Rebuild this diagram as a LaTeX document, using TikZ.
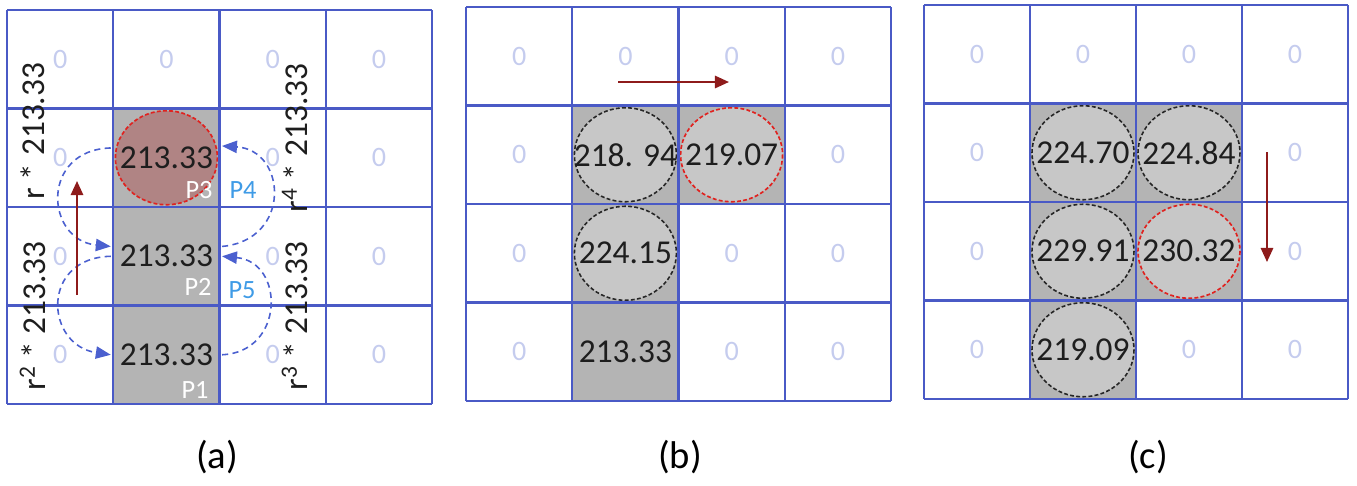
\documentclass[tikz,border=0pt]{standalone}
\usepackage{fontspec}
\setmainfont{Carlito}
\usetikzlibrary{arrows.meta,backgrounds}
\definecolor{gridline}{HTML}{4A5AC6}
\definecolor{zerotint}{HTML}{C5CCEE}
\definecolor{cellgray}{HTML}{B4B4B4}
\definecolor{bubblegray}{HTML}{C7C7C7}
\definecolor{hotfill}{HTML}{B08484}
\definecolor{hotline}{HTML}{E0221F}
\definecolor{pathred}{HTML}{8E1B1B}
\definecolor{arcblue}{HTML}{4B60CF}
\definecolor{tagblue}{HTML}{3F9BE6}
\definecolor{ink}{HTML}{1E1E1E}

\begin{document}
\begin{tikzpicture}[
  x=0.02cm, y=-0.02cm,
  font=\fontsize{19}{22}\selectfont, ink,
  gridcell/.style={draw=gridline, line width=1.35pt},
  filled/.style={fill=cellgray},
  zerotxt/.style={text=zerotint, font=\fontsize{16}{18}\selectfont, inner sep=0pt},
  valtxt/.style={text=ink, inner xsep=5pt, inner ysep=1pt},
  plabel/.style={text=white, font=\fontsize{15}{17}\selectfont, inner sep=0pt},
  plabelb/.style={plabel, text=tagblue},
  sidelabel/.style={rotate=90, text=ink, inner sep=0pt},
  bubble/.style={draw=black!85, fill=bubblegray, line width=0.9pt,
                 dash pattern=on 2.2pt off 1.3pt},
  hot/.style={draw=hotline, line width=0.95pt, dash pattern=on 2.2pt off 1.3pt},
  hop/.style={draw=arcblue, line width=0.9pt, dash pattern=on 3.5pt off 2.5pt,
              -{Triangle[length=8.5pt,width=7pt]}},
  walk/.style={draw=pathred, line width=1.2pt, -{Triangle[length=8pt,width=7pt]}},
  panel/.style={text=black, font=\fontsize{22}{26}\selectfont},
]
\useasboundingbox (0,0) rectangle (1357,485);

% ---- the three 4x4 grids ----------------------------------------------------
\foreach \ox/\oy/\w in {7/10/106.25, 466/7/106.25, 924/5/106} {
  \foreach \i in {0,...,4} {
    \draw[gridcell] (\ox+\i*\w,\oy) -- (\ox+\i*\w,\oy+394);
    \draw[gridcell] (\ox,\oy+\i*98.5) -- (\ox+4*\w,\oy+\i*98.5);
  }
}

% ---- empty cells ------------------------------------------------------------
\foreach \c/\r in {1/1,2/1,3/1,4/1,1/2,3/2,4/2,1/3,3/3,4/3,1/4,3/4,4/4}
  \node[zerotxt] (za\c\r) at (7+\c*106.25-53.1, 10+\r*98.5-49.25) {0};
\foreach \c/\r in {1/1,2/1,3/1,4/1,1/2,4/2,1/3,3/3,4/3,1/4,3/4,4/4}
  \node[zerotxt] (zb\c\r) at (466+\c*106.25-53.1, 7+\r*98.5-49.25) {0};
\foreach \c/\r in {1/1,2/1,3/1,4/1,1/2,4/2,1/3,4/3,1/4,3/4,4/4}
  \node[zerotxt] (zc\c\r) at (924+\c*106-53, 5+\r*98.5-49.25) {0};

% ---- (a) one column, first step ---------------------------------------------
\node[valtxt] (a3) at (166.4,157.75) {213.33};
\node[valtxt] (a2) at (166.4,256.25) {213.33};
\node[valtxt] (a1) at (166.4,354.75) {213.33};

\node[plabel] (p3) at (199,190) {P3};
\node[plabel] (p2) at (198,287) {P2};
\node[plabel] (p1) at (195,390) {P1};
\node[plabelb] (p4) at (243,190) {P4};
\node[plabelb] (p5) at (242,290) {P5};

\node[sidelabel] (rl1) at (33,131) {r * 213.33};
\node[sidelabel] (rl2) at (33,316) {r\textsuperscript{2} * 213.33};
\node[sidelabel] (rr4) at (295,138) {r\textsuperscript{4} * 213.33};
\node[sidelabel] (rr3) at (295,316) {r\textsuperscript{3} * 213.33};

\draw[hop] (a3.170) .. controls (40,150) and (45,240) .. (a2.170);
\draw[hop] (a2.west) .. controls (40,258) and (45,345) .. (a1.west);
\draw[hop] (a2.10) .. controls (292,240) and (287,150) .. (a3.12);
\draw[hop] (a1.east) .. controls (285,352) and (285,262) .. (a2.east);

\coordinate (ua0) at (77,295);
\coordinate (ua1) at (77,181);
\draw[walk] (ua0) -- (ua1);

% ---- (b) moving right -------------------------------------------------------
\node[valtxt] (b22) at (625.4,154.75) {218. 94};
\node[valtxt] (b32) at (731.6,154.75) {219.07};
\node[valtxt] (b23) at (625.4,253.25) {224.15};
\node[valtxt] (b24) at (625.4,351.75) {213.33};

\coordinate (ub0) at (618,82);
\coordinate (ub1) at (729,82);
\draw[walk] (ub0) -- (ub1);

% ---- (c) moving down --------------------------------------------------------
\node[valtxt] (c22) at (1083,152.75) {224.70};
\node[valtxt] (c32) at (1189,152.75) {224.84};
\node[valtxt] (c23) at (1083,251.25) {229.91};
\node[valtxt] (c33) at (1189,251.25) {230.32};
\node[valtxt] (c24) at (1083,349.75) {219.09};

\coordinate (uc0) at (1267,152);
\coordinate (uc1) at (1267,262);
\draw[walk] (uc0) -- (uc1);

% the visited cells and their circles
\begin{scope}[on background layer]
  \fill[filled] (113.25,108.5) rectangle (219.5,404);
  \fill[filled] (572.25,105.5) rectangle (678.5,401);
  \fill[filled] (678.5,105.5) rectangle (784.75,204);
  \fill[filled] (1030,103.5) rectangle (1136,399);
  \fill[filled] (1136,103.5) rectangle (1242,300.5);

  \draw[hot, fill=hotfill] (a3) ellipse [x radius=51, y radius=47];
  \foreach \n in {b22,b23,c22,c32,c23,c24}
    \draw[bubble] (\n) ellipse [x radius=51, y radius=47];
  \draw[hot, fill=bubblegray] (b32) ellipse [x radius=51, y radius=47];
  \draw[hot, fill=bubblegray] (c33) ellipse [x radius=51, y radius=47];
\end{scope}

% ---- captions ---------------------------------------------------------------
\node[panel] (capa) at (217,457) {(a)};
\node[panel] (capb) at (680,457) {(b)};
\node[panel] (capc) at (1148,457) {(c)};

\end{tikzpicture}
\end{document}
